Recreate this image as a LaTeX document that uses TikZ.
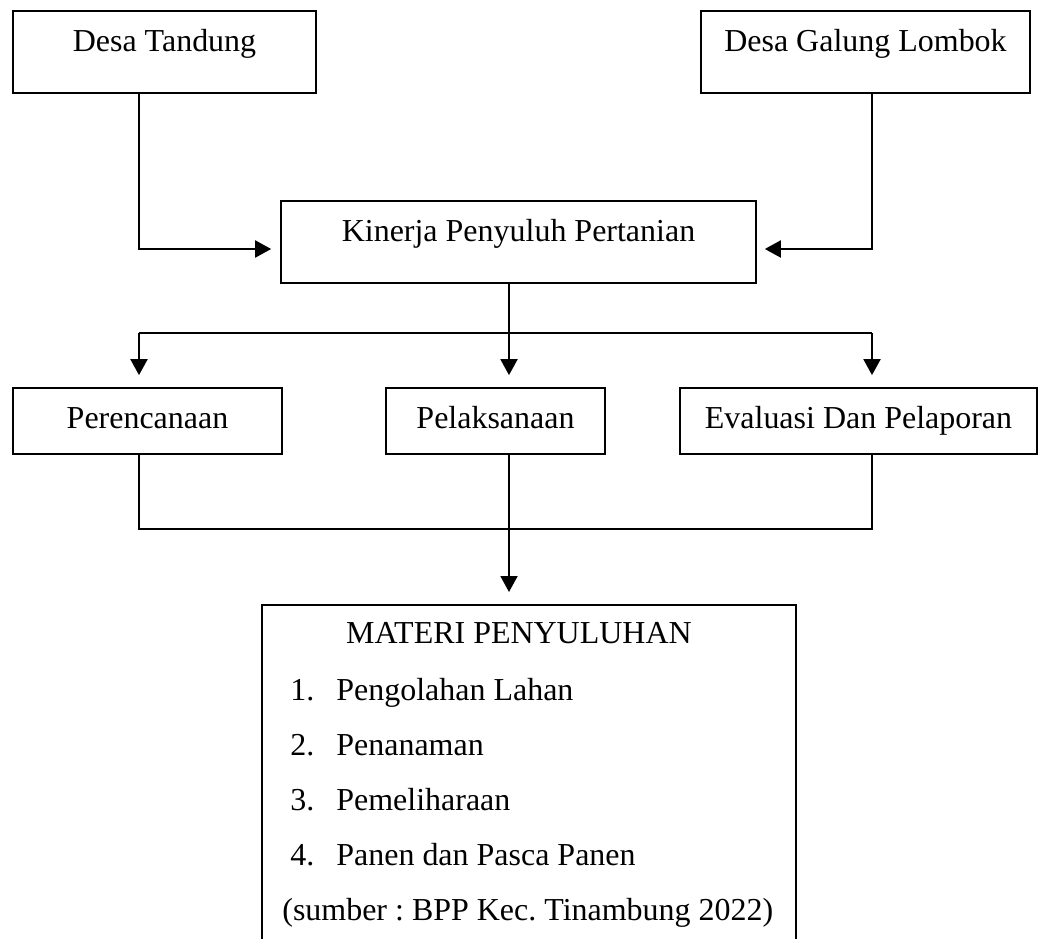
\documentclass[tikz,border=0pt]{standalone}
\usepackage{fontspec}
\setmainfont{Liberation Serif}
\usepackage{tikz}
\usetikzlibrary{arrows.meta}
\frenchspacing

\tikzset{
  box/.style={draw, line width=1pt, inner sep=0pt, align=center,
    text height=0.82cm, text depth=0.82cm},
  lowbox/.style={box, text depth=0.5cm},
  link/.style={line width=1.1pt},
  arr/.style={link, -{Triangle[width=0.34cm,length=0.32cm]}, shorten >=0.2cm}
}

\begin{document}
\begin{tikzpicture}[x=0.02cm, y=-0.02cm, every node/.style={font=\fontsize{18.2}{22}\selectfont}]
            \useasboundingbox (0,0) rectangle (1038,939);
            \clip (0,0) rectangle (1038,939);
            % villages
            \node[box, minimum width=6.06cm] (tandung) at (164.5,52) {Desa Tandung};
            \node[box, minimum width=6.58cm] (galung) at (865.5,52) {Desa Galung Lombok};
            \node[box, minimum width=9.5cm] (kinerja) at (518.5,242) {Kinerja Penyuluh Pertanian};
            % stages
            \node[lowbox, minimum width=5.38cm] (rencana) at (147.5,421) {Perencanaan};
            \node[lowbox, minimum width=4.38cm] (laksana) at (495.5,421) {Pelaksanaan};
            \node[lowbox, minimum width=7.14cm] (evaluasi) at (858.5,421) {Evaluasi Dan Pelaporan};
            % material box (runs past the page)
            \node[draw, line width=1pt, inner sep=0pt, anchor=north,
                  minimum width=10.68cm, minimum height=7.4cm] (materi) at (529,604) {};
            \node[anchor=base] (judul) at (519,643) {MATERI PENYULUHAN};
            \foreach \t [count=\i] in {Pengolahan Lahan, Penanaman, Pemeliharaan, Panen dan Pasca Panen}
            {
            \node[anchor=base west, inner sep=0pt] (no\i) at (290,645+55*\i) {\i.};
            \node[anchor=base west, inner sep=0pt] (item\i) at (336,645+55*\i) {\t};
            }
            \node[anchor=base west, inner sep=0pt] (sumber) at (282,920) {(sumber : BPP Kec. Tinambung 2022)};
            % connectors
            \coordinate (lt) at (139,249);
            \coordinate (rt) at (872,249);
            \coordinate (hl) at (139,333);
            \coordinate (hr) at (872,333);
            \coordinate (mid) at (509,333);
            \coordinate (jl) at (139,529);
            \coordinate (jr) at (872,529);
            \draw[arr, shorten >=0.18cm] (tandung.south -| lt) |- (kinerja.west |- lt);
            \draw[arr, shorten >=0.16cm] (galung.south -| rt) |- (kinerja.east |- rt);
            \draw[link] (hl) -- (hr);
            \draw[arr, shorten >=0.24cm] (kinerja.south -| mid) -- (laksana.north -| mid);
            \draw[arr, shorten >=0.24cm] (hl) -- (rencana.north -| hl);
            \draw[arr, shorten >=0.24cm] (hr) -- (evaluasi.north -| hr);
            \draw[link] (rencana.south -| jl) -- (jl) -- (jr) -- (evaluasi.south -| jr);
            \draw[arr, shorten >=0.24cm] (laksana.south -| mid) -- (materi.north -| mid);
        \end{tikzpicture}
\end{document}
